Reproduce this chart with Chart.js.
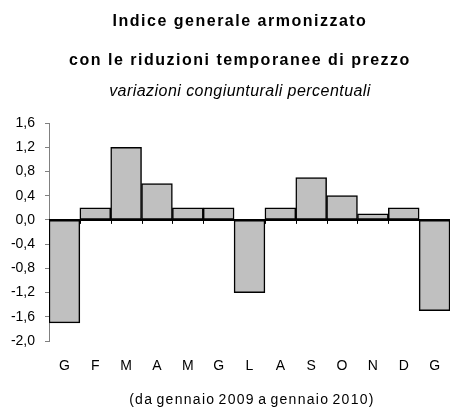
<!DOCTYPE html>
<html>
<head>
<meta charset="utf-8">
<script src="https://cdn.jsdelivr.net/npm/chart.js@4"></script>
<style>
  html, body { margin: 0; background: #fff; overflow: hidden; }
  #wrap { position: relative; width: 451px; height: 409px; overflow: hidden; font-family: "Liberation Sans", Arial, sans-serif; color: #000; }
  #wrap canvas { position: absolute; left: 0; top: 0; }
  .t { position: absolute; left: -20px; width: 520px; text-align: center; white-space: nowrap; }
  .title { font-weight: bold; font-size: 16px; letter-spacing: 1.5px; }
  .sub { font-style: italic; font-size: 16px; letter-spacing: 0.45px; top: 82px; }
  .note { font-size: 14px; top: 391px; left: -8px; letter-spacing: 1.3px; word-spacing: -2px; }
</style>
</head>
<body>
<div id="wrap">
  <canvas id="chart" width="451" height="409"></canvas>
  <div class="t title" style="top:12px">Indice generale armonizzato</div>
  <div class="t title" style="top:51px">con le riduzioni temporanee di prezzo</div>
  <div class="t sub">variazioni congiunturali percentuali</div>
  <div class="t note">(da gennaio 2009 a gennaio 2010)</div>
</div>
<script>
// ===== DATA =====
const months = ['G', 'F', 'M', 'A', 'M', 'G', 'L', 'A', 'S', 'O', 'N', 'D', 'G'];
const variazioni = [-1.7, 0.2, 1.2, 0.6, 0.2, 0.2, -1.2, 0.2, 0.7, 0.4, 0.1, 0.2, -1.5];
const yMin = -2.0;
const yMax = 1.6;
const yStep = 0.4;

// zero line + small ticks between months
const zeroLine = {
  id: 'zeroLine',
  afterDatasetsDraw(chart) {
    const { ctx, chartArea, scales: { x, y } } = chart;
    const y0 = y.getPixelForValue(0);
    ctx.save();
    ctx.strokeStyle = '#000';
    ctx.lineWidth = 1;
    for (let i = 1; i < months.length; i++) {
      const px = Math.round((x.getPixelForValue(i - 1) + x.getPixelForValue(i)) / 2) + 0.5;
      ctx.beginPath();
      ctx.moveTo(px, y0);
      ctx.lineTo(px, y0 + 4);
      ctx.stroke();
    }
    ctx.lineWidth = 2;
    ctx.beginPath();
    ctx.moveTo(chartArea.left, y0);
    ctx.lineTo(chartArea.right, y0);
    ctx.stroke();
    ctx.restore();
  }
};

new Chart(document.getElementById('chart'), {
  type: 'bar',
  data: {
    labels: months,
    datasets: [{
      data: variazioni,
      backgroundColor: '#c0c0c0',
      borderColor: '#000',
      borderWidth: 1.5,
      borderSkipped: false,
      barPercentage: 1,
      categoryPercentage: 1
    }]
  },
  options: {
    responsive: false,
    animation: false,
    layout: { padding: { top: 123, right: 1, left: 0, bottom: 0 } },
    plugins: { legend: { display: false }, tooltip: { enabled: false } },
    scales: {
      x: {
        grid: { display: false, drawTicks: true, tickLength: 16 },
        border: { display: false },
        ticks: { color: '#000', font: { family: 'Liberation Sans', size: 14 }, padding: 1 },
        afterFit(scale) { scale.height = 68; }
      },
      y: {
        min: yMin,
        max: yMax,
        grid: { drawOnChartArea: false, tickLength: 4, color: '#808080' },
        border: { color: '#808080', width: 1 },
        ticks: {
          stepSize: yStep,
          color: '#000',
          padding: 10,
          font: { family: 'Liberation Sans', size: 14 },
          callback: v => Number(v).toFixed(1).replace('.', ',')
        },
        afterFit(scale) { scale.width = 49; }
      }
    }
  },
  plugins: [zeroLine]
});
</script>
</body>
</html>
